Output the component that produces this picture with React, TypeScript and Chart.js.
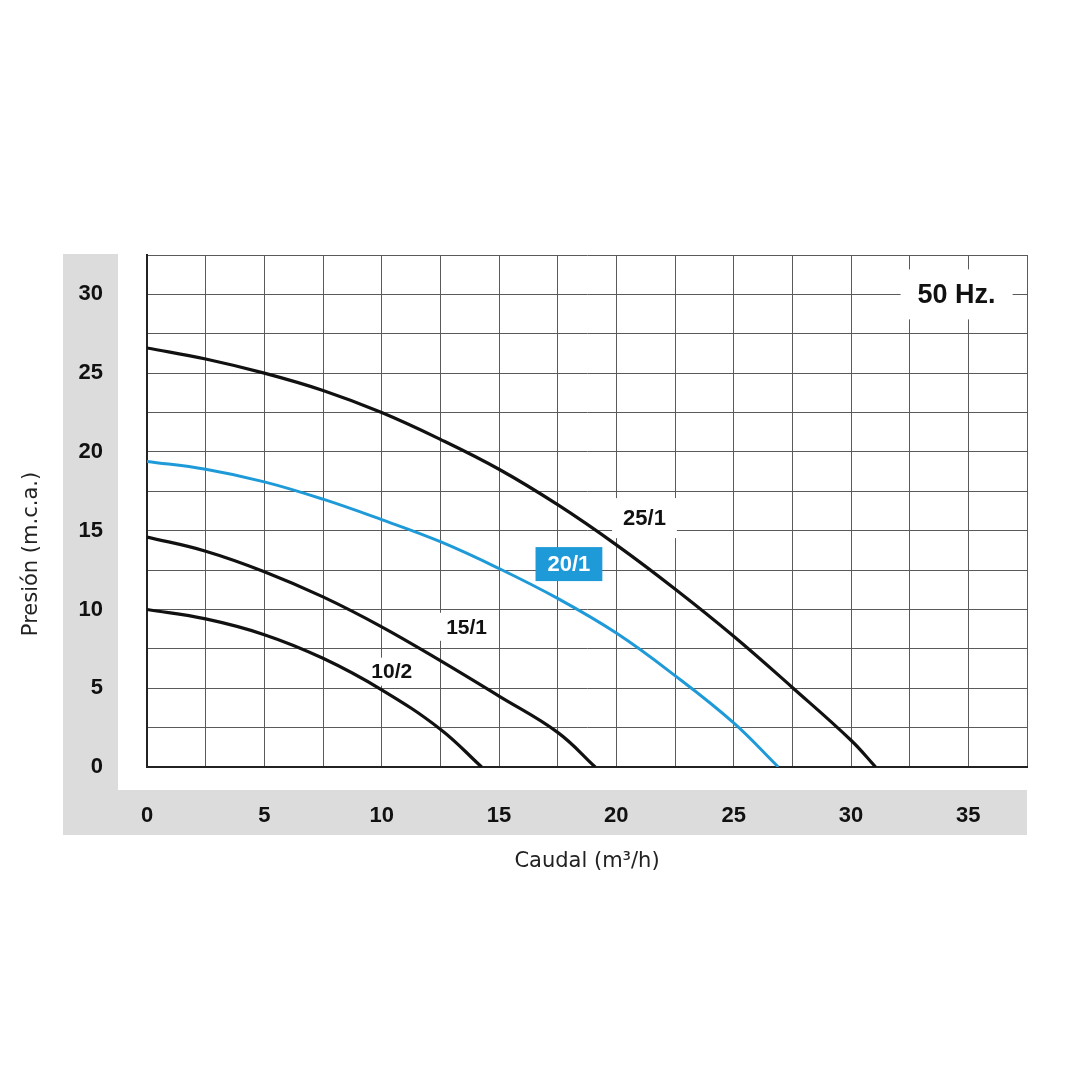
import { useEffect, useRef } from 'react';
import { Chart, registerables } from 'chart.js';

Chart.register(...registerables);

// pump curves, flow in m3/h, head in m.c.a.
const flow25 = [0, 2.5, 5, 7.5, 10, 12.5, 15, 17.5, 20, 22.5, 25, 27.5, 30, 31.05];
const head25 = [26.6, 25.9, 25.0, 23.9, 22.5, 20.8, 18.9, 16.65, 14.1, 11.3, 8.3, 5.05, 1.7, 0];
const flow20 = [0, 2.5, 5, 7.5, 10, 12.5, 15, 17.5, 20, 22.5, 25, 26.9];
const head20 = [19.4, 18.9, 18.1, 17.0, 15.7, 14.3, 12.6, 10.7, 8.5, 5.8, 2.8, 0];
const flow15 = [0, 2.5, 5, 7.5, 10, 12.5, 15, 17.5, 19.1];
const head15 = [14.6, 13.7, 12.4, 10.8, 8.9, 6.75, 4.5, 2.2, 0];
const flow10 = [0, 2.5, 5, 7.5, 10, 12.5, 14.26];
const head10 = [10.0, 9.4, 8.4, 6.9, 4.9, 2.4, 0];

const xTicks = [0, 5, 10, 15, 20, 25, 30, 35];
const yTicks = [0, 5, 10, 15, 20, 25, 30];

const BLUE = '#1f9ad8';
const FONT = '"Liberation Sans", Arial, sans-serif';

// curve labels placed in data units
const curveLabels = [
  { text: '25/1', x: 21.2, y: 15.8, boxed: false, size: 22, padX: 11, padY: 20 },
  { text: '20/1', x: 17.98, y: 12.88, boxed: true, size: 22, padX: 12, padY: 17 },
  { text: '15/1', x: 13.62, y: 8.9, boxed: false, size: 21, padX: 8, padY: 14 },
  { text: '10/2', x: 10.43, y: 6.05, boxed: false, size: 21, padX: 8, padY: 14 },
  { text: '50 Hz.', x: 34.5, y: 30.0, boxed: false, size: 27, padX: 17, padY: 25 },
];

const toPts = (xs: number[], ys: number[]) => xs.map((x, i) => ({ x, y: ys[i] }));

const decor = {
  id: 'decor',
  beforeDraw(chart: any) {
    const { ctx, chartArea: a } = chart;
    ctx.save();
    ctx.fillStyle = '#dcdcdc';
    ctx.fillRect(a.left - 84, a.top - 1, 55, a.bottom + 69 - a.top);
    ctx.fillRect(a.left - 84, a.bottom + 23, a.right - a.left + 84, 45);
    ctx.restore();
  },
  beforeDatasetsDraw(chart: any) {
    const { ctx, chartArea: a, scales } = chart;
    ctx.save();
    ctx.textAlign = 'center';
    ctx.textBaseline = 'middle';
    curveLabels.forEach((l) => {
      const px = scales.x.getPixelForValue(l.x);
      const py = scales.y.getPixelForValue(l.y);
      ctx.font = `bold ${l.size}px ${FONT}`;
      const w = ctx.measureText(l.text).width + l.padX * 2;
      const h = l.padY * 2;
      ctx.fillStyle = l.boxed ? BLUE : '#ffffff';
      ctx.fillRect(px - w / 2, py - h / 2, w, h);
      ctx.fillStyle = l.boxed ? '#ffffff' : '#111111';
      ctx.fillText(l.text, px, py + 1);
    });
    // y axis title
    ctx.translate(a.left - 115, (a.top + a.bottom) / 2 + 43);
    ctx.rotate(-Math.PI / 2);
    ctx.font = `21px "DejaVu Sans", sans-serif`;
    ctx.fillStyle = '#222222';
    ctx.fillText('Presión (m.c.a.)', 0, 0);
    ctx.restore();
  },
};

export default function App() {
  const canvasRef = useRef<HTMLCanvasElement | null>(null);

  useEffect(() => {
    if (!canvasRef.current) return;
    const line = (pts: { x: number; y: number }[], color: string, width: number) => ({
      data: pts,
      showLine: true,
      borderColor: color,
      borderWidth: width,
      pointRadius: 0,
      tension: 0.4,
      fill: false,
    });

    const chart = new Chart(canvasRef.current, {
      type: 'scatter',
      data: {
        datasets: [
          line(toPts(flow25, head25), '#111111', 3.2),
          line(toPts(flow20, head20), BLUE, 3),
          line(toPts(flow15, head15), '#111111', 3.2),
          line(toPts(flow10, head10), '#111111', 3.2),
        ],
      },
      options: {
        animation: false,
        responsive: true,
        maintainAspectRatio: false,
        layout: { padding: { top: 255, right: 53, left: 0, bottom: 206 } },
        plugins: { legend: { display: false }, tooltip: { enabled: false } },
        scales: {
          x: {
            type: 'linear',
            min: 0,
            max: 37.5,
            afterFit: (s: any) => {
              s.height = 107;
            },
            ticks: {
              stepSize: 2.5,
              padding: 36,
              color: '#111111',
              font: { family: FONT, size: 22, weight: 'bold' },
              callback: (v: any) => (xTicks.includes(Number(v)) ? String(v) : ''),
            },
            grid: { color: '#5a5a5a', lineWidth: 1, drawTicks: false },
            border: { color: '#222222', width: 2 },
            title: {
              display: true,
              text: 'Caudal (m³/h)',
              color: '#222222',
              padding: { top: 0, bottom: 0 },
              font: { family: '"DejaVu Sans", sans-serif', size: 21 },
            },
          },
          y: {
            type: 'linear',
            min: 0,
            max: 32.5,
            afterFit: (s: any) => {
              s.width = 147;
            },
            ticks: {
              stepSize: 2.5,
              padding: 44,
              color: '#111111',
              font: { family: FONT, size: 22, weight: 'bold' },
              callback: (v: any) => (yTicks.includes(Number(v)) ? String(v) : ''),
            },
            grid: { color: '#5a5a5a', lineWidth: 1, drawTicks: false },
            border: { color: '#222222', width: 2 },
          },
        },
      },
      plugins: [decor],
    });

    return () => chart.destroy();
  }, []);

  return (
    <div style={{ position: 'absolute', left: 0, top: 0, width: 1080, height: 1080, background: '#ffffff' }}>
      <canvas ref={canvasRef}></canvas>
    </div>
  );
}
